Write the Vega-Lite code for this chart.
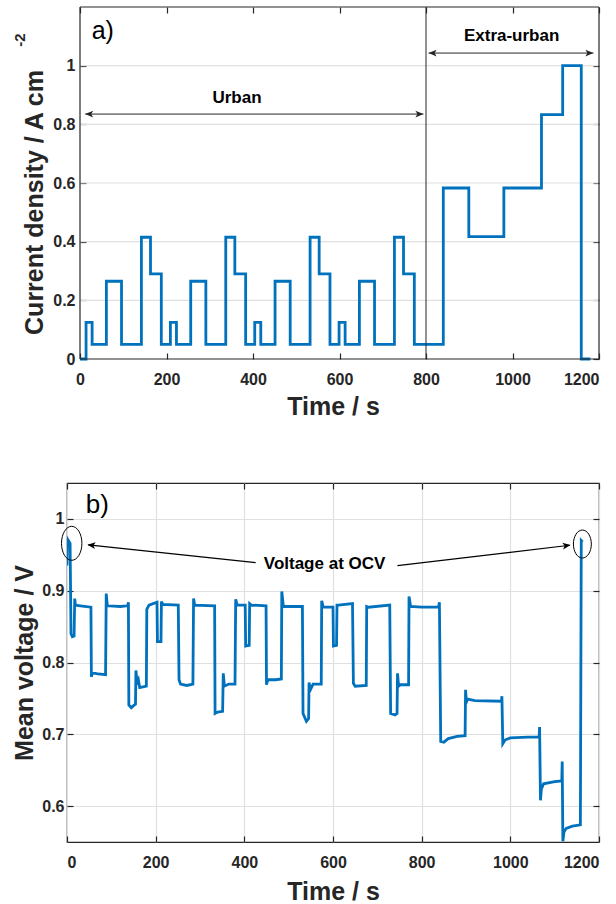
{
  "$schema": "https://vega.github.io/schema/vega-lite/v6.json",
  "padding": {"left": 12, "top": 6, "right": 10, "bottom": 0},
  "spacing": 62,
  "config": {
    "font": "Liberation Sans",
    "view": {"stroke": "#262626", "strokeWidth": 1.2},
    "axis": {
      "labelFont": "Liberation Sans", "labelFontWeight": "bold", "labelFontSize": 16, "labelColor": "#262626",
      "titleFont": "Liberation Sans", "titleFontWeight": "bold", "titleFontSize": 25, "titleColor": "#262626",
      "gridColor": "#e0e0e0", "gridWidth": 1.2, "gridOpacity": 1,
      "domain": false, "tickColor": "#262626", "tickSize": -6, "tickWidth": 1.2
    }
  },
  "datasets": {
    "current": [
      {"t": 0, "j": 0}, {"t": 14, "j": 0.125}, {"t": 28, "j": 0.05}, {"t": 61, "j": 0.265}, {"t": 96, "j": 0.05}, {"t": 142, "j": 0.415}, {"t": 163, "j": 0.29}, {"t": 188, "j": 0.05},
      {"t": 209, "j": 0.125}, {"t": 223, "j": 0.05}, {"t": 256, "j": 0.265}, {"t": 291, "j": 0.05}, {"t": 337, "j": 0.415}, {"t": 358, "j": 0.29}, {"t": 383, "j": 0.05},
      {"t": 404, "j": 0.125}, {"t": 418, "j": 0.05}, {"t": 451, "j": 0.265}, {"t": 486, "j": 0.05}, {"t": 532, "j": 0.415}, {"t": 553, "j": 0.29}, {"t": 578, "j": 0.05},
      {"t": 599, "j": 0.125}, {"t": 613, "j": 0.05}, {"t": 646, "j": 0.265}, {"t": 681, "j": 0.05}, {"t": 727, "j": 0.415}, {"t": 748, "j": 0.29}, {"t": 773, "j": 0.05},
      {"t": 840, "j": 0.583}, {"t": 899, "j": 0.417}, {"t": 980, "j": 0.583}, {"t": 1067, "j": 0.833}, {"t": 1116, "j": 1.0}, {"t": 1159, "j": 0}, {"t": 1180, "j": 0}
    ],
    "voltage": [
      {"t": 0, "v": 0.935}, {"t": 1, "v": 0.972}, {"t": 7, "v": 0.966}, {"t": 9, "v": 0.84}, {"t": 12, "v": 0.836}, {"t": 16, "v": 0.837}, {"t": 17.4, "v": 0.889}, {"t": 19, "v": 0.88}, {"t": 30, "v": 0.879}, {"t": 54, "v": 0.877},
      {"t": 55, "v": 0.78}, {"t": 57, "v": 0.786}, {"t": 70, "v": 0.784}, {"t": 87, "v": 0.783}, {"t": 88.5, "v": 0.896}, {"t": 91, "v": 0.879}, {"t": 120, "v": 0.878}, {"t": 137, "v": 0.879}, {"t": 138.5, "v": 0.884},
      {"t": 139.5, "v": 0.741}, {"t": 145, "v": 0.737}, {"t": 152, "v": 0.741}, {"t": 154.5, "v": 0.742}, {"t": 155.5, "v": 0.789}, {"t": 158, "v": 0.772}, {"t": 161, "v": 0.776}, {"t": 164, "v": 0.765}, {"t": 179, "v": 0.767},
      {"t": 180, "v": 0.874}, {"t": 185, "v": 0.88}, {"t": 203, "v": 0.884}, {"t": 204, "v": 0.829}, {"t": 212, "v": 0.829}, {"t": 213, "v": 0.885}, {"t": 216, "v": 0.881}, {"t": 251, "v": 0.88},
      {"t": 252.7, "v": 0.776}, {"t": 256, "v": 0.77}, {"t": 270, "v": 0.768}, {"t": 284, "v": 0.77}, {"t": 285.5, "v": 0.889}, {"t": 288, "v": 0.88}, {"t": 333, "v": 0.879},
      {"t": 334, "v": 0.729}, {"t": 340, "v": 0.731}, {"t": 351, "v": 0.732}, {"t": 352.5, "v": 0.785}, {"t": 355, "v": 0.767}, {"t": 365, "v": 0.77}, {"t": 379, "v": 0.77},
      {"t": 380.5, "v": 0.888}, {"t": 384, "v": 0.88}, {"t": 402, "v": 0.88}, {"t": 403, "v": 0.823}, {"t": 411, "v": 0.824}, {"t": 412, "v": 0.882}, {"t": 416, "v": 0.88}, {"t": 449, "v": 0.879},
      {"t": 450, "v": 0.769}, {"t": 453, "v": 0.776}, {"t": 470, "v": 0.776}, {"t": 483.5, "v": 0.777}, {"t": 484.5, "v": 0.899}, {"t": 488, "v": 0.878}, {"t": 531, "v": 0.878},
      {"t": 532.4, "v": 0.729}, {"t": 540, "v": 0.718}, {"t": 545, "v": 0.722}, {"t": 546, "v": 0.772}, {"t": 549, "v": 0.762}, {"t": 555, "v": 0.77}, {"t": 573.5, "v": 0.77},
      {"t": 574.5, "v": 0.886}, {"t": 578, "v": 0.877}, {"t": 600, "v": 0.877}, {"t": 601, "v": 0.823}, {"t": 608, "v": 0.824}, {"t": 609, "v": 0.88}, {"t": 612, "v": 0.88}, {"t": 644, "v": 0.882},
      {"t": 646, "v": 0.771}, {"t": 650, "v": 0.767}, {"t": 675, "v": 0.768}, {"t": 676, "v": 0.878}, {"t": 680, "v": 0.877}, {"t": 728, "v": 0.88},
      {"t": 730, "v": 0.729}, {"t": 740, "v": 0.727}, {"t": 744.5, "v": 0.729}, {"t": 745.5, "v": 0.785}, {"t": 748, "v": 0.767}, {"t": 752, "v": 0.769}, {"t": 770.5, "v": 0.769},
      {"t": 771.5, "v": 0.892}, {"t": 775, "v": 0.878}, {"t": 800, "v": 0.877}, {"t": 838, "v": 0.877}, {"t": 840, "v": 0.884},
      {"t": 843, "v": 0.69}, {"t": 850, "v": 0.689}, {"t": 860, "v": 0.694}, {"t": 880, "v": 0.697}, {"t": 898, "v": 0.698},
      {"t": 899, "v": 0.762}, {"t": 901, "v": 0.745}, {"t": 904, "v": 0.749}, {"t": 920, "v": 0.747}, {"t": 980, "v": 0.746}, {"t": 981, "v": 0.753},
      {"t": 983, "v": 0.687}, {"t": 988, "v": 0.692}, {"t": 1000, "v": 0.695}, {"t": 1040, "v": 0.696}, {"t": 1065, "v": 0.696}, {"t": 1066, "v": 0.71},
      {"t": 1068, "v": 0.608}, {"t": 1070, "v": 0.624}, {"t": 1075, "v": 0.631}, {"t": 1100, "v": 0.634}, {"t": 1116, "v": 0.635}, {"t": 1117, "v": 0.662},
      {"t": 1118.5, "v": 0.551}, {"t": 1121, "v": 0.564}, {"t": 1126, "v": 0.569}, {"t": 1140, "v": 0.572}, {"t": 1158, "v": 0.574}, {"t": 1160, "v": 0.97}, {"t": 1163, "v": 0.968}
    ],
    "topGrid": [{"y": 0.2}, {"y": 0.4}, {"y": 0.6}, {"y": 0.8}, {"y": 1}],
    "topFrameV": [{"x": 0}, {"x": 1200}],
    "topFrameH": [{"y": 0}, {"y": 1.2}],
    "topArrows": [
      {"xa": 12, "xb": 794, "y": 0.835},
      {"xa": 806, "xb": 1187, "y": 1.043}
    ],
    "topHeads": [
      {"x": 12, "y": 0.835, "dir": "left"},
      {"x": 794, "y": 0.835, "dir": "right"},
      {"x": 806, "y": 1.043, "dir": "left"},
      {"x": 1187, "y": 1.043, "dir": "right"}
    ],
    "topTexts": [
      {"x": 363, "y": 0.89, "label": "Urban"},
      {"x": 998, "y": 1.102, "label": "Extra-urban"}
    ],
    "unitSup": [{"x": -137.6, "y": 1.0875, "label": "-2"}],
    "divider": [{"x": 800}],
    "panelA": [{"x": 52.6, "y": 1.119, "label": "a)"}],
    "panelB": [{"x": 68.6, "y": 1.019, "label": "b)"}],
    "ocvText": [{"x": 581, "y": 0.937, "label": "Voltage at OCV"}],
    "ocvLines": [
      {"xa": 425.6, "ya": 0.939, "xb": 48, "yb": 0.9637},
      {"xa": 745.3, "ya": 0.935, "xb": 1134, "yb": 0.9633}
    ],
    "ocvHeadLeft": [{"x": 46, "y": 0.964}],
    "ocvHeadRight": [{"x": 1136, "y": 0.9635}],
    "ellipseLeft": [{"x": 10.6, "y": 0.966}],
    "ellipseRight": [{"x": 1162.5, "y": 0.965}]
  },
  "vconcat": [
    {
      "width": 532,
      "height": 352,
      "view": {"stroke": null},
      "resolve": {"axis": {"x": "independent", "y": "independent"}},
      "layer": [
        {
          "data": {"name": "topGrid"},
          "mark": {"type": "rule", "color": "#e0e0e0", "strokeWidth": 1.2},
          "encoding": {
            "x": {"datum": 0, "type": "quantitative", "axis": null},
            "x2": {"datum": 1200},
            "y": {"field": "y", "type": "quantitative", "axis": null}
          }
        },
        {
          "data": {"name": "current"},
          "mark": {"type": "line", "interpolate": "step-after", "color": "#0072BD", "strokeWidth": 2.8},
          "encoding": {
            "x": {"field": "t", "type": "quantitative", "scale": {"domain": [-30.06, 1200], "nice": false, "zero": false},
                  "axis": {"orient": "bottom", "ticks": false, "values": [0, 200, 400, 600, 800, 1000, 1200], "format": "d", "title": "Time / s", "labelPadding": 12, "titlePadding": 7}},
            "y": {"field": "j", "type": "quantitative", "scale": {"domain": [0, 1.2], "nice": false},
                  "axis": {"orient": "left", "offset": -13, "ticks": false, "grid": false, "values": [0, 0.2, 0.4, 0.6, 0.8, 1], "format": "~g", "title": "Current density / A cm", "labelPadding": 5, "titlePadding": 5, "titleY": 195}}
          }
        },
        {
          "data": {"name": "topFrameV"},
          "mark": {"type": "rule", "color": "#262626", "strokeWidth": 1.2},
          "encoding": {
            "x": {"field": "x", "type": "quantitative", "axis": null},
            "y": {"datum": 0, "type": "quantitative", "axis": null},
            "y2": {"datum": 1.2}
          }
        },
        {
          "data": {"name": "topFrameH"},
          "mark": {"type": "rule", "color": "#262626", "strokeWidth": 1.2},
          "encoding": {
            "x": {"datum": 0, "type": "quantitative", "axis": null},
            "x2": {"datum": 1200},
            "y": {"field": "y", "type": "quantitative", "axis": null}
          }
        },
        {
          "data": {"name": "divider"},
          "mark": {"type": "rule", "color": "#262626", "strokeWidth": 1},
          "encoding": {"x": {"field": "x", "type": "quantitative", "axis": null}}
        },
        {
          "data": {"name": "topArrows"},
          "mark": {"type": "rule", "color": "#262626", "strokeWidth": 1},
          "encoding": {
            "x": {"field": "xa", "type": "quantitative", "axis": null},
            "x2": {"field": "xb"},
            "y": {"field": "y", "type": "quantitative", "axis": null}
          }
        },
        {
          "data": {"name": "topHeads"},
          "mark": {"type": "point", "filled": true, "size": 64, "color": "#262626", "opacity": 1, "strokeWidth": 0},
          "encoding": {
            "x": {"field": "x", "type": "quantitative", "axis": null},
            "y": {"field": "y", "type": "quantitative", "axis": null},
            "shape": {"field": "dir", "type": "nominal", "legend": null,
                      "scale": {"domain": ["left", "right"], "range": ["M0,0L2,-0.85L1.5,0L2,0.85Z", "M0,0L-2,-0.85L-1.5,0L-2,0.85Z"]}}
          }
        },
        {
          "data": {"name": "topTexts"},
          "mark": {"type": "text", "font": "Liberation Sans", "fontWeight": "bold", "fontSize": 17, "color": "#000000"},
          "encoding": {
            "x": {"field": "x", "type": "quantitative",
                  "axis": {"orient": "bottom", "labels": false, "title": null, "grid": false, "values": [0, 200, 400, 600, 800, 1000, 1200]}},
            "y": {"field": "y", "type": "quantitative",
                  "axis": {"orient": "left", "offset": -13, "labels": false, "title": null, "grid": false, "values": [0, 0.2, 0.4, 0.6, 0.8, 1]}},
            "text": {"field": "label"}
          }
        },
        {
          "data": {"name": "unitSup"},
          "mark": {"type": "text", "font": "Liberation Sans", "fontWeight": "bold", "fontSize": 15, "color": "#262626", "angle": 270, "clip": false},
          "encoding": {
            "x": {"field": "x", "type": "quantitative", "axis": null},
            "y": {"field": "y", "type": "quantitative", "axis": null},
            "text": {"field": "label"}
          }
        },
        {
          "data": {"name": "panelA"},
          "mark": {"type": "text", "font": "Liberation Sans", "fontSize": 25, "color": "#000000"},
          "encoding": {
            "x": {"field": "x", "type": "quantitative",
                  "axis": {"orient": "top", "labels": false, "title": null, "grid": false, "values": [0, 200, 400, 600, 800, 1000, 1200]}},
            "y": {"field": "y", "type": "quantitative",
                  "axis": {"orient": "right", "labels": false, "title": null, "grid": false, "values": [0, 0.2, 0.4, 0.6, 0.8, 1]}},
            "text": {"field": "label"}
          }
        }
      ]
    },
    {
      "width": 532,
      "height": 359,
      "resolve": {"axis": {"x": "independent", "y": "independent"}},
      "layer": [
        {
          "data": {"name": "voltage"},
          "mark": {"type": "line", "color": "#0072BD", "strokeWidth": 2.8, "clip": true},
          "encoding": {
            "x": {"field": "t", "type": "quantitative", "scale": {"domain": [0, 1200], "nice": false},
                  "axis": {"orient": "bottom", "ticks": false, "values": [0, 200, 400, 600, 800, 1000, 1200], "format": "d", "title": "Time / s", "labelPadding": 12, "titlePadding": 9}},
            "y": {"field": "v", "type": "quantitative", "scale": {"domain": [0.55, 1.05], "nice": false},
                  "axis": {"orient": "left", "ticks": false, "values": [0.6, 0.7, 0.8, 0.9, 1], "format": "~g", "title": "Mean voltage / V", "labelPadding": 3, "titlePadding": 4}}
          }
        },
        {
          "data": {"name": "ocvLines"},
          "mark": {"type": "rule", "color": "#000000", "strokeWidth": 1.2},
          "encoding": {
            "x": {"field": "xa", "type": "quantitative", "axis": null},
            "x2": {"field": "xb"},
            "y": {"field": "ya", "type": "quantitative", "axis": null},
            "y2": {"field": "yb"}
          }
        },
        {
          "data": {"name": "ocvHeadLeft"},
          "mark": {"type": "point", "filled": true, "size": 64, "color": "#000000", "opacity": 1, "strokeWidth": 0, "angle": 6.2,
                   "shape": "M0,0L2,-0.85L1.5,0L2,0.85Z"},
          "encoding": {
            "x": {"field": "x", "type": "quantitative", "axis": null},
            "y": {"field": "y", "type": "quantitative", "axis": null}
          }
        },
        {
          "data": {"name": "ocvHeadRight"},
          "mark": {"type": "point", "filled": true, "size": 64, "color": "#000000", "opacity": 1, "strokeWidth": 0, "angle": 353.2,
                   "shape": "M0,0L-2,-0.85L-1.5,0L-2,0.85Z"},
          "encoding": {
            "x": {"field": "x", "type": "quantitative", "axis": null},
            "y": {"field": "y", "type": "quantitative", "axis": null}
          }
        },
        {
          "data": {"name": "ellipseLeft"},
          "mark": {"type": "point", "filled": false, "size": 1156, "color": "#000000", "opacity": 1, "strokeWidth": 1,
                   "shape": "M0,-1A0.6,1 0 1,1 0,1A0.6,1 0 1,1 0,-1Z"},
          "encoding": {
            "x": {"field": "x", "type": "quantitative", "axis": null},
            "y": {"field": "y", "type": "quantitative", "axis": null}
          }
        },
        {
          "data": {"name": "ellipseRight"},
          "mark": {"type": "point", "filled": false, "size": 784, "color": "#000000", "opacity": 1, "strokeWidth": 1,
                   "shape": "M0,-1A0.64,1 0 1,1 0,1A0.64,1 0 1,1 0,-1Z"},
          "encoding": {
            "x": {"field": "x", "type": "quantitative", "axis": null},
            "y": {"field": "y", "type": "quantitative", "axis": null}
          }
        },
        {
          "data": {"name": "ocvText"},
          "mark": {"type": "text", "font": "Liberation Sans", "fontWeight": "bold", "fontSize": 17, "color": "#000000"},
          "encoding": {
            "x": {"field": "x", "type": "quantitative",
                  "axis": {"orient": "bottom", "labels": false, "title": null, "grid": false, "values": [0, 200, 400, 600, 800, 1000, 1200]}},
            "y": {"field": "y", "type": "quantitative",
                  "axis": {"orient": "left", "labels": false, "title": null, "grid": false, "values": [0.6, 0.7, 0.8, 0.9, 1]}},
            "text": {"field": "label"}
          }
        },
        {
          "data": {"name": "panelB"},
          "mark": {"type": "text", "font": "Liberation Sans", "fontSize": 26, "color": "#000000"},
          "encoding": {
            "x": {"field": "x", "type": "quantitative",
                  "axis": {"orient": "top", "labels": false, "title": null, "grid": false, "values": [0, 200, 400, 600, 800, 1000, 1200]}},
            "y": {"field": "y", "type": "quantitative",
                  "axis": {"orient": "right", "labels": false, "title": null, "grid": false, "values": [0.6, 0.7, 0.8, 0.9, 1]}},
            "text": {"field": "label"}
          }
        }
      ]
    }
  ]
}
